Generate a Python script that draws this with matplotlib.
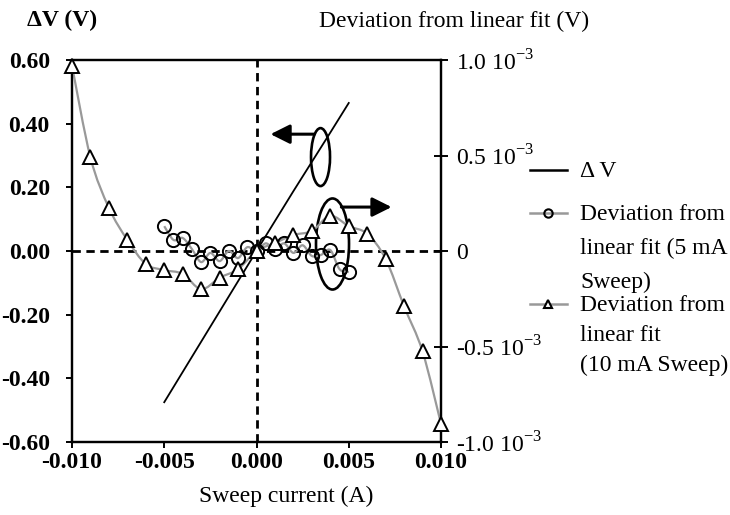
import matplotlib
matplotlib.use("Agg")
import matplotlib.pyplot as plt
import numpy as np
from matplotlib.path import Path
from matplotlib.patches import PathPatch, Ellipse, FancyArrowPatch
from matplotlib.lines import Line2D

plt.rcParams['font.family'] = ['Liberation Serif', 'DejaVu Serif']
plt.rcParams['mathtext.fontset'] = 'custom'
plt.rcParams['mathtext.rm'] = 'Liberation Serif'

# ---- data ----
dv_current = [-0.005, -0.004, -0.003, -0.002, -0.001, 0.0, 0.001, 0.002, 0.003, 0.004, 0.005]
dv_values = [-0.475, -0.38, -0.285, -0.19, -0.095, 0.0, 0.094, 0.188, 0.28, 0.372, 0.465]

sweep5_current = [-0.0050, -0.0045, -0.0040, -0.0035, -0.0030, -0.0025, -0.0020, -0.0015,
                  -0.0010, -0.0005, 0.0000, 0.0005, 0.0010, 0.0015, 0.0020, 0.0025,
                  0.0030, 0.0035, 0.0040, 0.0045, 0.0050]
sweep5_dev = [0.13e-3, 0.058e-3, 0.068e-3, 0.01e-3, -0.058e-3, -0.01e-3, -0.053e-3, 0.0,
              -0.037e-3, 0.02e-3, 0.0, 0.04e-3, 0.01e-3, 0.04e-3, -0.01e-3, 0.03e-3,
              -0.026e-3, -0.02e-3, 0.005e-3, -0.095e-3, -0.11e-3]

sweep10_current = [-0.010, -0.009, -0.008, -0.007, -0.006, -0.005, -0.004, -0.003, -0.002,
                   -0.001, 0.000, 0.001, 0.002, 0.003, 0.004, 0.005, 0.006, 0.007, 0.008,
                   0.009, 0.010]
sweep10_dev = [0.97e-3, 0.49e-3, 0.226e-3, 0.058e-3, -0.068e-3, -0.10e-3, -0.12e-3, -0.20e-3,
               -0.14e-3, -0.095e-3, 0.0, 0.042e-3, 0.084e-3, 0.105e-3, 0.184e-3, 0.13e-3,
               0.09e-3, -0.042e-3, -0.29e-3, -0.526e-3, -0.905e-3]

x_ticks = [-0.010, -0.005, 0.000, 0.005, 0.010]
x_ticklabels = ["-0.010", "-0.005", "0.000", "0.005", "0.010"]
left_ticks = [-0.60, -0.40, -0.20, 0.00, 0.20, 0.40, 0.60]
left_ticklabels = ["-0.60", "-0.40", "-0.20", "0.00", "0.20", "0.40", "0.60"]
right_ticks = [-1.0e-3, -0.5e-3, 0.0, 0.5e-3, 1.0e-3]
right_ticklabels = [r"-1.0 10$^{\mathregular{-3}}$", r"-0.5 10$^{\mathregular{-3}}$", "0",
                    r"0.5 10$^{\mathregular{-3}}$", r"1.0 10$^{\mathregular{-3}}$"]

legend_lines = [["Δ V"],
                ["Deviation from", "linear fit (5 mA", "Sweep)"],
                ["Deviation from", "linear fit", "(10 mA Sweep)"]]

GRAY = '#999999'
FS = 17
W, H = 730, 515


def smooth_path(xs, ys):
    pts = np.column_stack([xs, ys]).astype(float)
    n = len(pts)
    verts = [pts[0]]
    codes = [Path.MOVETO]
    for i in range(n - 1):
        p0 = pts[i - 1] if i > 0 else pts[i]
        p1 = pts[i]
        p2 = pts[i + 1]
        p3 = pts[i + 2] if i + 2 < n else pts[i + 1]
        c1 = p1 + (p2 - p0) / 6.0
        c2 = p2 - (p3 - p1) / 6.0
        verts += [c1, c2, p2]
        codes += [Path.CURVE4] * 3
    return Path(verts, codes)


fig = plt.figure(figsize=(7.3, 5.15), dpi=100)
ax = fig.add_axes([72 / W, 1 - 442 / H, (441 - 72) / W, (442 - 60) / H])
ax2 = ax.twinx()

ax.set_xlim(-0.010, 0.010)
ax.set_ylim(-0.60, 0.60)
ax2.set_ylim(-1.0e-3, 1.0e-3)

# zero lines
ax.axhline(0, color='black', lw=2.0, ls=(0, (3, 2)), zorder=1)
ax.axvline(0, color='black', lw=2.0, ls=(0, (3, 2)), zorder=1)

# Delta V
ax.plot(dv_current, dv_values, color='black', lw=1.3, zorder=2)

# deviation series (smoothed connecting curves)
ax2.add_patch(PathPatch(smooth_path(sweep5_current, sweep5_dev), fill=False,
                        edgecolor=GRAY, lw=1.6, zorder=2))
ax2.add_patch(PathPatch(smooth_path(sweep10_current, sweep10_dev), fill=False,
                        edgecolor=GRAY, lw=1.6, zorder=2))
ax2.plot(sweep5_current, sweep5_dev, ls='none', marker='o', ms=9.5, mfc='none',
         mec='black', mew=1.4, zorder=3)
ax2.plot(sweep10_current, sweep10_dev, ls='none', marker='^', ms=10, mfc='white',
         mec='black', mew=1.4, zorder=3, clip_on=False)

# annotations: ellipses and arrows (left-axis coordinates)
ax.add_patch(Ellipse((0.00347, 0.295), 0.00103, 0.182, fill=False, ec='black', lw=1.9, zorder=4))
ax.add_patch(Ellipse((0.00412, 0.022), 0.00179, 0.286, fill=False, ec='black', lw=1.9, zorder=4))
ax.add_patch(FancyArrowPatch((0.00314, 0.367), (0.00076, 0.367),
                             arrowstyle='-|>,head_length=0.9,head_width=0.45',
                             mutation_scale=13, color='black', lw=2.2, zorder=4,
                             shrinkA=0, shrinkB=0))
ax.add_patch(FancyArrowPatch((0.0046, 0.138), (0.00732, 0.138),
                             arrowstyle='-|>,head_length=0.9,head_width=0.45',
                             mutation_scale=13, color='black', lw=2.2, zorder=4,
                             shrinkA=0, shrinkB=0))

# axes styling
for a in (ax, ax2):
    for s in a.spines.values():
        s.set_linewidth(1.6)

ax.set_xticks(x_ticks)
ax.set_xticklabels(x_ticklabels, fontsize=FS, fontweight='bold')
ax.set_yticks(left_ticks)
ax.set_yticklabels(left_ticklabels, fontsize=FS, fontweight='bold')
ax.tick_params(axis='x', direction='out', length=4, width=1.4, pad=3)
ax.tick_params(axis='y', direction='out', length=4, width=1.4, pad=12)
ax2.set_yticks(right_ticks)
ax2.set_yticklabels(right_ticklabels, fontsize=FS)
ax2.tick_params(axis='y', direction='inout', length=10, width=1.4, pad=6)

ax.set_xlabel("Sweep current (A)", fontsize=FS)
ax.xaxis.set_label_coords(0.58, -0.115)
fig.text(62 / W, 1 - 20 / H, "ΔV (V)", fontsize=FS, fontweight='bold',
         ha='center', va='center')
fig.text(454 / W, 1 - 21 / H, "Deviation from linear fit (V)", fontsize=FS,
         ha='center', va='center')

# legend (drawn manually so handles align with first text line)
handle_styles = [dict(color='black', lw=1.8),
                 dict(color=GRAY, lw=1.8, marker='o', ms=6, mfc='none', mec='black', mew=1.5),
                 dict(color=GRAY, lw=1.8, marker='^', ms=6, mfc='white', mec='black', mew=1.5)]
entry_rows = [[170], [213, 247, 281], [304, 334, 364]]
for style, rows, lines in zip(handle_styles, entry_rows, legend_lines):
    yh = 1 - rows[0] / H
    fig.add_artist(Line2D([530 / W, 548 / W, 567 / W], [yh, yh, yh],
                          transform=fig.transFigure, markevery=[1], **style))
    for yr, txt in zip(rows, lines):
        fig.text(580 / W, 1 - (yr + 7) / H, txt, fontsize=FS, ha='left', va='baseline')

fig.savefig("out.png", dpi=100)
